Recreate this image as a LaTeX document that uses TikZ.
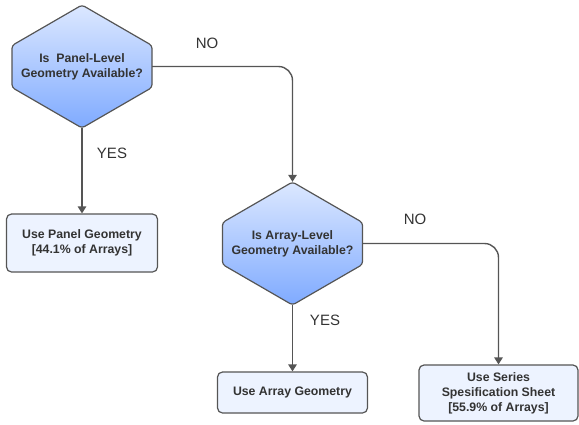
\documentclass[tikz,border=0pt]{standalone}
\usepackage{fontspec}
\setmainfont{Liberation Sans}
\usetikzlibrary{calc,arrows.meta}
\definecolor{hexTop}{HTML}{DCE8FF}
\definecolor{hexBot}{HTML}{7FAAFF}
\definecolor{boxFill}{HTML}{EDF3FF}
\definecolor{lineC}{HTML}{555555}
\definecolor{txtC}{HTML}{333333}
\tikzset{
  conn/.style={draw=lineC, line width=1.4pt, -{Triangle[length=7pt,width=8.5pt]}, rounded corners=14pt},
  boxnode/.style={draw=lineC, line width=1.2pt, fill=boxFill, rounded corners=5pt, align=center,
    font=\fontsize{12.3}{15}\selectfont\bfseries, text=txtC, inner sep=0pt},
  hextext/.style={align=center, font=\fontsize{12.3}{15}\selectfont\bfseries, text=txtC, inner sep=0pt,
    minimum width=140pt, minimum height=123pt},
  lbl/.style={font=\fontsize{15}{18}\selectfont, text=txtC, inner sep=0pt}
}
\newcommand\hexnode[4]{%
  \shadedraw[top color=hexTop, bottom color=hexBot, draw=lineC, line width=1.2pt, rounded corners=3pt]
    (#2,#3-61.5) -- (#2+70,#3-21) -- (#2+70,#3+21) -- (#2,#3+61.5) -- (#2-70,#3+21) -- (#2-70,#3-21) -- cycle;
  \node[hextext] (#1) at (#2,#3) {#4};
}
\begin{document}
\begin{tikzpicture}[x=1pt,y=-1pt]
\useasboundingbox (0,0) rectangle (579,424);
\hexnode{h1}{82}{66.5}{Is\ \ Panel-Level\\Geometry Available?}
\hexnode{h2}{292.5}{243.5}{Is Array-Level\\Geometry Available?}
\node[boxnode, minimum width=151pt, minimum height=58pt] (b1) at (82,243) {Use Panel Geometry\\{[44.1\% of Arrays]}};
\node[boxnode, minimum width=150pt, minimum height=41pt] (b2) at (292.5,392.5) {Use Array Geometry};
\node[boxnode, minimum width=159pt, minimum height=56pt] (b3) at (498.5,393) {Use Series\\Spesification Sheet\\{[55.9\% of Arrays]}};
\draw[conn] (h1.south) -- (b1.north);
\draw[conn] (h1.east) -| (h2.north);
\draw[conn] (h2.south) -- (b2.north);
\draw[conn] (h2.east) -| (b3.north);
\node[lbl] (no1) at (207,43) {NO};
\node[lbl] (yes1) at (112,153) {YES};
\node[lbl] (no2) at (415,219) {NO};
\node[lbl] (yes2) at (325,320) {YES};
\end{tikzpicture}
\end{document}
